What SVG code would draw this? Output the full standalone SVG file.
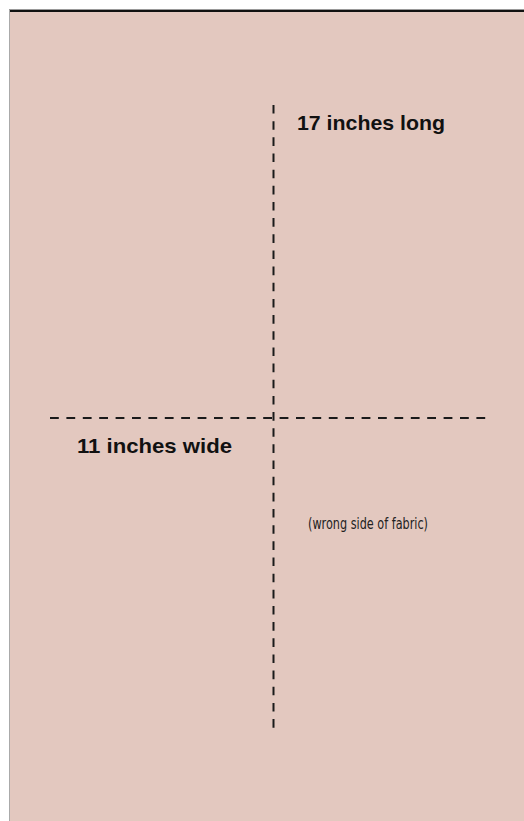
<svg xmlns="http://www.w3.org/2000/svg" width="524" height="821" viewBox="0 0 524 821">
<style>
.dash{stroke:#1a1a1a;stroke-width:2;fill:none}
.lbl{font-family:"Liberation Sans",Arial,sans-serif;font-weight:bold;fill:#111}
.note{font-family:"Liberation Sans Narrow","DejaVu Sans Condensed","Liberation Sans",sans-serif;fill:#222}
</style>
<rect width="524" height="821" fill="#ffffff"/>
<g id="fabric">
<rect x="9" y="10" width="515" height="811" fill="#e3c8bf"/>
<line x1="9" y1="9.5" x2="524" y2="9.5" stroke="#999" stroke-width="1"/>
<line x1="9" y1="11" x2="524" y2="11" stroke="#111" stroke-width="2"/>
<line x1="9.5" y1="10" x2="9.5" y2="821" stroke="#aaa" stroke-width="1"/>
</g>
<g id="connectors">
<line class="dash" x1="273.5" y1="105" x2="273.5" y2="728" stroke-dasharray="8.6 7.56"/>
<line class="dash" x1="50" y1="418" x2="486" y2="418" stroke-dasharray="8.8 7.6"/>
</g>
<g id="label-long"><text class="lbl" x="297" y="130" font-size="21" textLength="148" lengthAdjust="spacingAndGlyphs">17 inches long</text></g>
<g id="label-wide"><text class="lbl" x="77" y="453" font-size="21" textLength="155" lengthAdjust="spacingAndGlyphs">11 inches wide</text></g>
<g id="label-note"><text class="note" x="308" y="529" font-size="15" textLength="120" lengthAdjust="spacingAndGlyphs">(wrong side of fabric)</text></g>
</svg>
